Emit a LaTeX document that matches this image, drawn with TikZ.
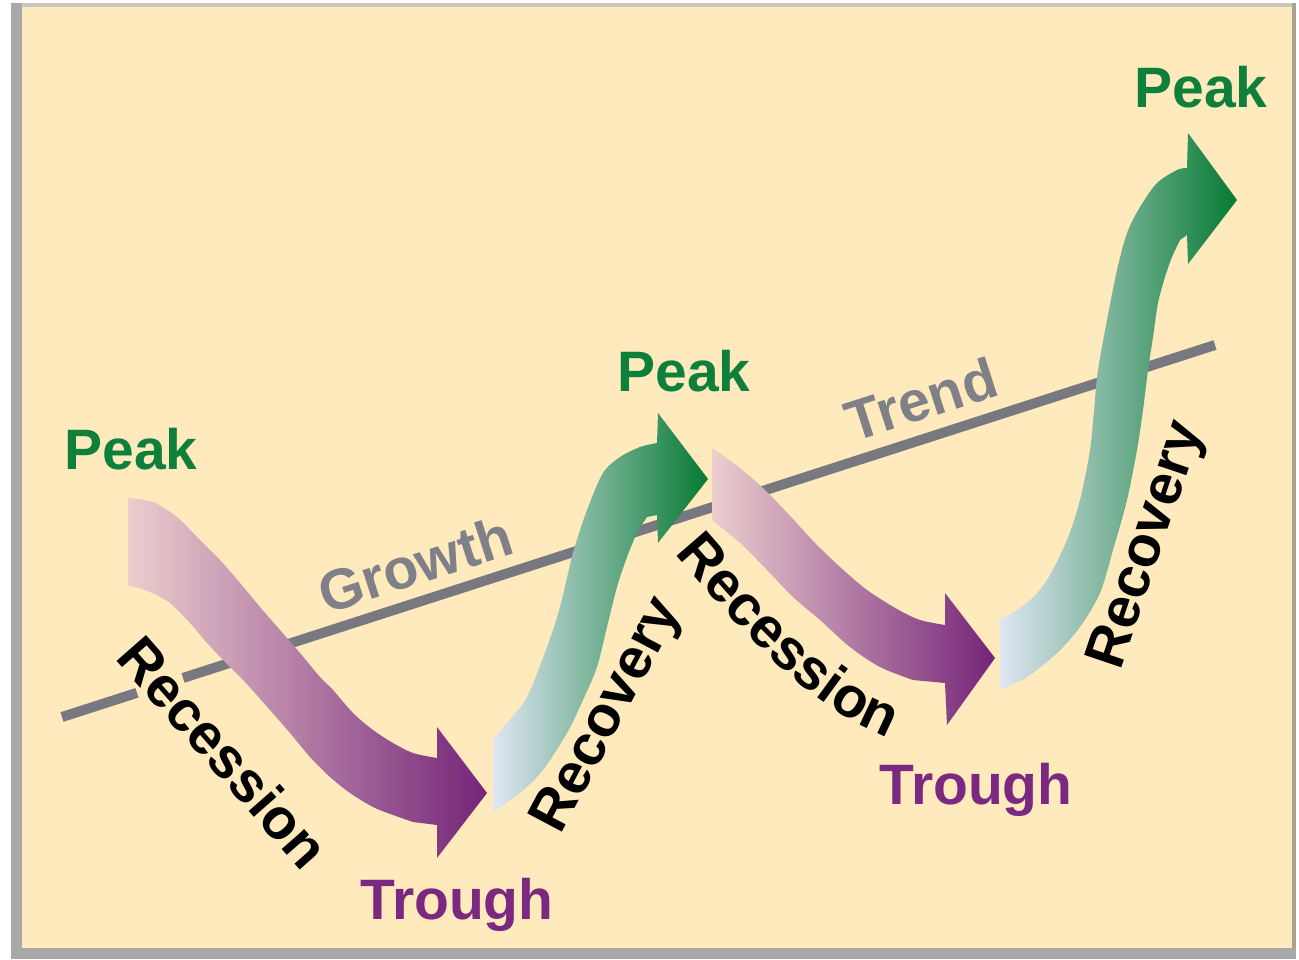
\documentclass[tikz,border=0pt]{standalone}
\usepackage{fontspec}
\setmainfont{Liberation Sans}
\usetikzlibrary{decorations.text,calc}
\definecolor{cream}{RGB}{254,234,188}
\definecolor{framegray}{RGB}{168,168,168}
\definecolor{topgray}{RGB}{200,196,190}
\definecolor{righttan}{RGB}{172,162,144}
\definecolor{trendgray}{RGB}{120,120,128}
\definecolor{labgray}{RGB}{128,128,136}
\definecolor{peakgreen}{RGB}{14,128,60}
\definecolor{troughpurple}{RGB}{122,40,128}
\definecolor{pinkA}{RGB}{236,206,206}
\definecolor{pinkB}{RGB}{188,138,170}
\definecolor{pinkC}{RGB}{116,36,120}
\definecolor{greenA}{RGB}{224,230,244}
\definecolor{greenB}{RGB}{146,180,150}
\definecolor{greenC}{RGB}{6,122,50}
\tikzset{
  lab/.style={inner sep=0pt, font=\fontsize{57}{60}\selectfont\bfseries, text height=41pt, text depth=0pt},
  trendline/.style={draw=trendgray, line width=10pt},
  purplearrow/.style={left color=pinkA, middle color=pinkB, right color=pinkC},
  greenarrow/.style={left color=greenA, middle color=greenB, right color=greenC}
}
\begin{document}
\begin{tikzpicture}[x=1pt,y=-1pt]
\useasboundingbox (0,0) rectangle (1299,959);
\fill[white] (0,0) rectangle (1299,959);
\fill[framegray] (11,3) rectangle (1296,959);
\fill[topgray] (22,3) rectangle (1296,7);
\fill[righttan] (1292,3) rectangle (1296,948);
\fill[cream] (22,7) rectangle (1292,948);

% trend line
\coordinate (tl) at (62,717);
\coordinate (tr) at (1215,345);
\draw[trendline] (tl) -- ($(tl)!0.065!(tr)$);
\draw[trendline] ($(tl)!0.105!(tr)$) -- (tr);

% arrow 1: recession
\shade[purplearrow] plot[smooth,tension=0.5] coordinates {(128,498) (153,502) (177,517) (197,537) (220,560) (240,583) (260,607) (280,630) (300,653) (320,677) (333,690) (353,713) (373,730) (393,743) (413,753) (437,758)}
  -- (437,727) -- (487,793) -- (437,858) -- (437,825)
  -- plot[smooth,tension=0.5] coordinates {(413,822) (393,815) (373,807) (350,793) (330,777) (310,757) (290,733) (270,710) (245,682) (225,662) (207,643) (190,623) (170,603) (150,592) (128,585)} -- cycle;

% arrow 2: recovery
\shade[greenarrow] plot[smooth,tension=0.5] coordinates {(493,740) (507,723) (527,697) (547,647) (560,607) (573,553) (587,510) (603,473) (620,457) (640,447) (657,443)}
  -- (658,413) -- (708,479) -- (658,543) -- (657,515)
  -- plot[smooth,tension=0.5] coordinates {(647,517) (637,533) (627,557) (617,587) (607,627) (597,667) (583,700) (567,733) (543,770) (520,793) (493,812)} -- cycle;

% arrow 3: recession
\shade[purplearrow] plot[smooth,tension=0.5] coordinates {(712,448) (740,468) (767,492) (792,518) (815,543) (840,567) (867,590) (897,609) (920,620) (945,625)}
  -- (945,593) -- (995,658) -- (947,725) -- (945,683)
  -- plot[smooth,tension=0.5] coordinates {(913,680) (880,667) (850,647) (820,620) (793,597) (767,570) (740,543) (712,520)} -- cycle;

% arrow 4: recovery
\shade[greenarrow] plot[smooth,tension=0.5] coordinates {(1000,620) (1027,603) (1047,580) (1067,540) (1080,500) (1090,450) (1094,410) (1098,370) (1107,320) (1117,270) (1127,233) (1140,207) (1157,183) (1177,170) (1187,168)}
  -- (1188,133) -- (1237,200) -- (1188,264) -- (1187,235)
  -- plot[smooth,tension=0.5] coordinates {(1180,240) (1172,257) (1165,277) (1158,303) (1153,337) (1148,370) (1143,410) (1137,450) (1127,500) (1113,550) (1100,593) (1080,627) (1057,653) (1027,677) (1000,690)} -- cycle;

% labels
\node[lab, text=peakgreen] (peak1) at (131,449) {Peak};
\node[lab, text=peakgreen] (peak2) at (684,371) {Peak};
\node[lab, text=peakgreen] (peak3) at (1201,87) {Peak};
\node[lab, text=troughpurple] (trough1) at (457,899) {Trough};
\node[lab, text=troughpurple] (trough2) at (976,784) {Trough};
\node[lab, text=labgray, rotate=17.9] (growth) at (415,564) {Growth};
\node[lab, text=labgray, rotate=17.9] (trend) at (921,399) {Trend};
\node[lab, rotate=-48.7] (rec1) at (224,752) {Recession};
\node[lab, rotate=62] (recov1) at (603,713) {Recovery};
\node[lab, rotate=71.3] (recov2) at (1142,543) {Recovery};
\path[decorate, decoration={text along path, text align=center,
  text={|\fontsize{57}{60}\selectfont\bfseries|Recession}}]
  (671,550) .. controls (740,630) and (810,710) .. (893,740);
\end{tikzpicture}
\end{document}
